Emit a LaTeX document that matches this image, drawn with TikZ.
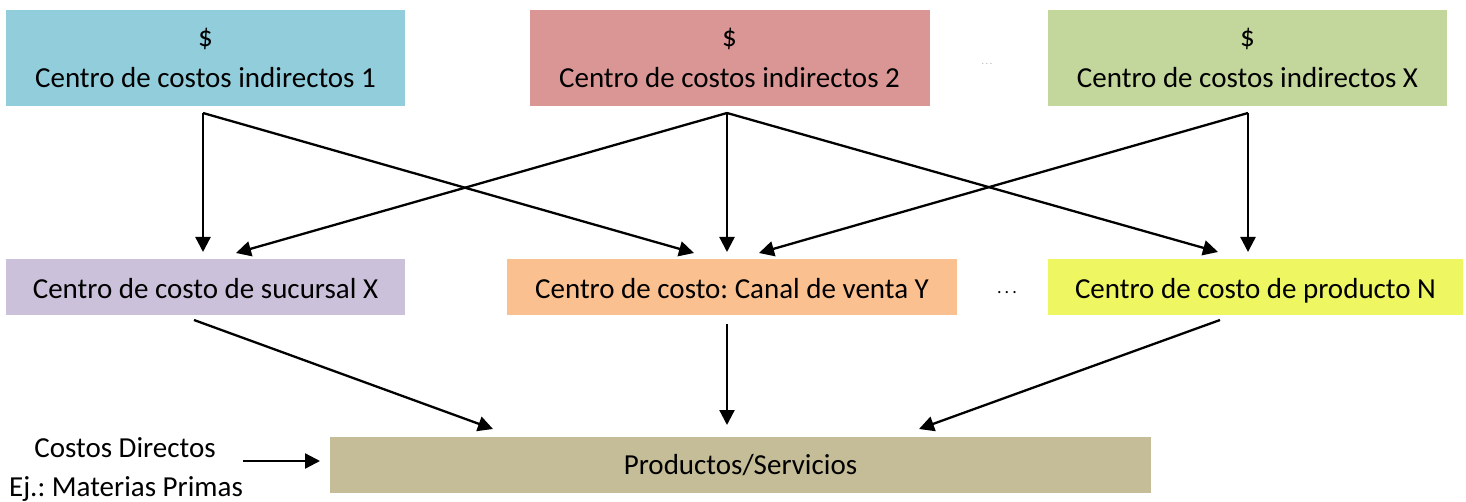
\documentclass[tikz,border=0pt]{standalone}
\usepackage{fontspec}
\setmainfont{Carlito}
\usetikzlibrary{arrows.meta}
\definecolor{cA}{HTML}{92CDDC}
\definecolor{cB}{HTML}{D99694}
\definecolor{cC}{HTML}{C3D69B}
\definecolor{cD}{HTML}{CCC1DA}
\definecolor{cE}{HTML}{FAC090}
\definecolor{cF}{HTML}{EEF761}
\definecolor{cG}{HTML}{C4BD97}
\frenchspacing
\tikzset{
  box/.style={draw=none, inner sep=0pt, align=center,
    font=\fontsize{14.5}{20.5}\selectfont\frenchspacing},
  midbox/.style={box, minimum height={56*0.5pt}, text depth=3pt, text height=14.5pt},
  lbl/.style={inner sep=0pt, font=\fontsize{14.5}{20}\selectfont\frenchspacing},
  arr/.style={line width=1.15pt, -{Triangle[length=7.5pt,width=7.5pt]}},
}
\begin{document}
\begin{tikzpicture}[x=0.5pt,y=-0.5pt]
\useasboundingbox (0,0) rectangle (1466,502);
% top boxes
\node[box, fill=cA, minimum width={399*0.5pt}, minimum height={96*0.5pt}] (ci1) at (205.5,58) {\$\\Centro de costos indirectos 1};
\node[box, fill=cB, minimum width={400*0.5pt}, minimum height={96*0.5pt}] (ci2) at (729.5,58) {\$\\Centro de costos indirectos 2};
\node[box, fill=cC, minimum width={399*0.5pt}, minimum height={96*0.5pt}] (ci3) at (1247.5,58) {\$\\Centro de costos indirectos X};
\node[lbl, text=gray!60, font=\fontsize{5}{6}\selectfont] (dots1) at (987,64) {.\,.\,.};
% middle boxes
\node[midbox, fill=cD, minimum width={399*0.5pt}] (suc) at (205.5,287) {Centro de costo de sucursal X};
\node[midbox, fill=cE, minimum width={450*0.5pt}] (can) at (732,287) {Centro de costo: Canal de venta Y};
\node[midbox, fill=cF, minimum width={415*0.5pt}] (pro) at (1255.5,287) {Centro de costo de producto N};
\node[lbl, font=\fontsize{9}{10}\selectfont] (dots2) at (1007,293) {.\,.\,.};
% bottom
\node[box, fill=cG, minimum width={821*0.5pt}, minimum height={56*0.5pt}] (prod) at (740.5,465) {Productos/Servicios};
\node[lbl] (cd) at (125,448) {Costos Directos};
\node[lbl] (mp) at (126,489) {Ej.: Materias Primas};
% connector points
\coordinate (s1) at (203,113);
\coordinate (s2) at (727,113);
\coordinate (s3) at (1248,113);
\coordinate (tsA) at (203,252);
\coordinate (tsB) at (236,253);
\coordinate (tcA) at (694,253);
\coordinate (tcB) at (727,252);
\coordinate (tcC) at (759,253);
\coordinate (tpA) at (1218,252);
\coordinate (tpB) at (1248,252);
\coordinate (bs1) at (194,320);
\coordinate (bs2) at (727,324);
\coordinate (bs3) at (1220,320);
\coordinate (bt1) at (493,429);
\coordinate (bt2) at (727,425);
\coordinate (bt3) at (919,429);
\coordinate (dA) at (243,461);
\coordinate (dB) at (320,461);
% arrows
\draw[arr] (s1) -- (tsA);
\draw[arr] (s1) -- (tcA);
\draw[arr] (s2) -- (tsB);
\draw[arr] (s2) -- (tcB);
\draw[arr] (s2) -- (tpA);
\draw[arr] (s3) -- (tcC);
\draw[arr] (s3) -- (tpB);
\draw[arr] (bs1) -- (bt1);
\draw[arr] (bs2) -- (bt2);
\draw[arr] (bs3) -- (bt3);
\draw[arr] (dA) -- (dB);
\end{tikzpicture}
\end{document}
